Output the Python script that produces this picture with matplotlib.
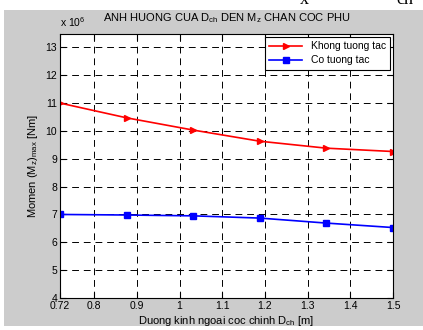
import matplotlib
matplotlib.use("Agg")
import matplotlib.pyplot as plt
from matplotlib.patches import Rectangle

# outer diameter of main pile (m)
d_ch = [0.72, 0.876, 1.032, 1.188, 1.344, 1.5]
# max moment (x 10^6 Nm)
m_khong = [11.0, 10.47, 10.03, 9.63, 9.38, 9.26]
m_co = [7.0, 6.98, 6.95, 6.87, 6.69, 6.53]
xticks = [0.72, 0.8, 0.9, 1.0, 1.1, 1.2, 1.3, 1.4, 1.5]
xtick_labels = ["0.72", "0.8", "0.9", "1", "1.1", "1.2", "1.3", "1.4", "1.5"]
yticks = [4, 5, 6, 7, 8, 9, 10, 11, 12, 13]

plt.rcParams["font.family"] = ["Liberation Sans", "DejaVu Sans"]
plt.rcParams["mathtext.fontset"] = "custom"
plt.rcParams["mathtext.rm"] = "Liberation Sans"
plt.rcParams["mathtext.it"] = "Liberation Sans"

W, H = 423, 330
fig = plt.figure(figsize=(W / 100, H / 100), dpi=100, facecolor="white")
# gray figure area (white border from the cropped page)
fig.patches.append(Rectangle((4 / W, 4 / H), 1 - 4 / W, (H - 14) / H,
                             transform=fig.transFigure, facecolor="#cccccc",
                             edgecolor="none", zorder=-5))
# cut-off text from the page above
fig.text(304 / W, 1.0, "x", family="Liberation Serif", fontsize=13,
         ha="center", va="center")
fig.text(405 / W, 1.0, "ch", family="Liberation Serif", fontsize=13,
         ha="center", va="center")

ax = fig.add_axes([60 / W, 1 - 298 / H, 333 / W, 264 / H])
ax.set_facecolor("white")

ax.plot(d_ch, m_khong, color="red", marker=">", markersize=4.5, linewidth=1.2,
        label="Khong tuong tac")
ax.plot(d_ch, m_co, color="blue", marker="s", markersize=4.5, linewidth=1.2,
        label="Co tuong tac")

ax.set_xlim(0.72, 1.5)
ax.set_ylim(4, 13.48)
ax.set_xticks(xticks)
ax.set_xticklabels(xtick_labels)
ax.set_yticks(yticks)
ax.tick_params(direction="in", top=True, right=True, length=4, width=0.8,
               labelsize=7.5, pad=2)
for s in ax.spines.values():
    s.set_linewidth(0.8)
ax.grid(True, color="black", linestyle=(0, (7, 5)), linewidth=0.7)

ax.set_title("ANH HUONG CUA D$_{\\rm ch}$ DEN M$_{\\rm z}$ CHAN COC PHU",
             fontsize=8, pad=9)
ax.set_xlabel("Duong kinh ngoai coc chinh D$_{\\rm ch}$ [m]", fontsize=8, labelpad=2)
ax.set_ylabel("Momen (M$_{\\rm z}$)$_{\\rm max}$ [Nm]", fontsize=8, labelpad=4)
ax.text(0.0, 1.02, "x 10$^{\\rm 6}$", transform=ax.transAxes, fontsize=7.5,
        ha="left", va="bottom")

leg = ax.legend(loc="upper right", fontsize=7.5, fancybox=False, framealpha=1,
                edgecolor="black", handlelength=3.2, borderaxespad=0.3,
                labelspacing=0.4, borderpad=0.4)
leg.get_frame().set_linewidth(0.8)

fig.savefig("out.png", dpi=100, facecolor=fig.get_facecolor())
